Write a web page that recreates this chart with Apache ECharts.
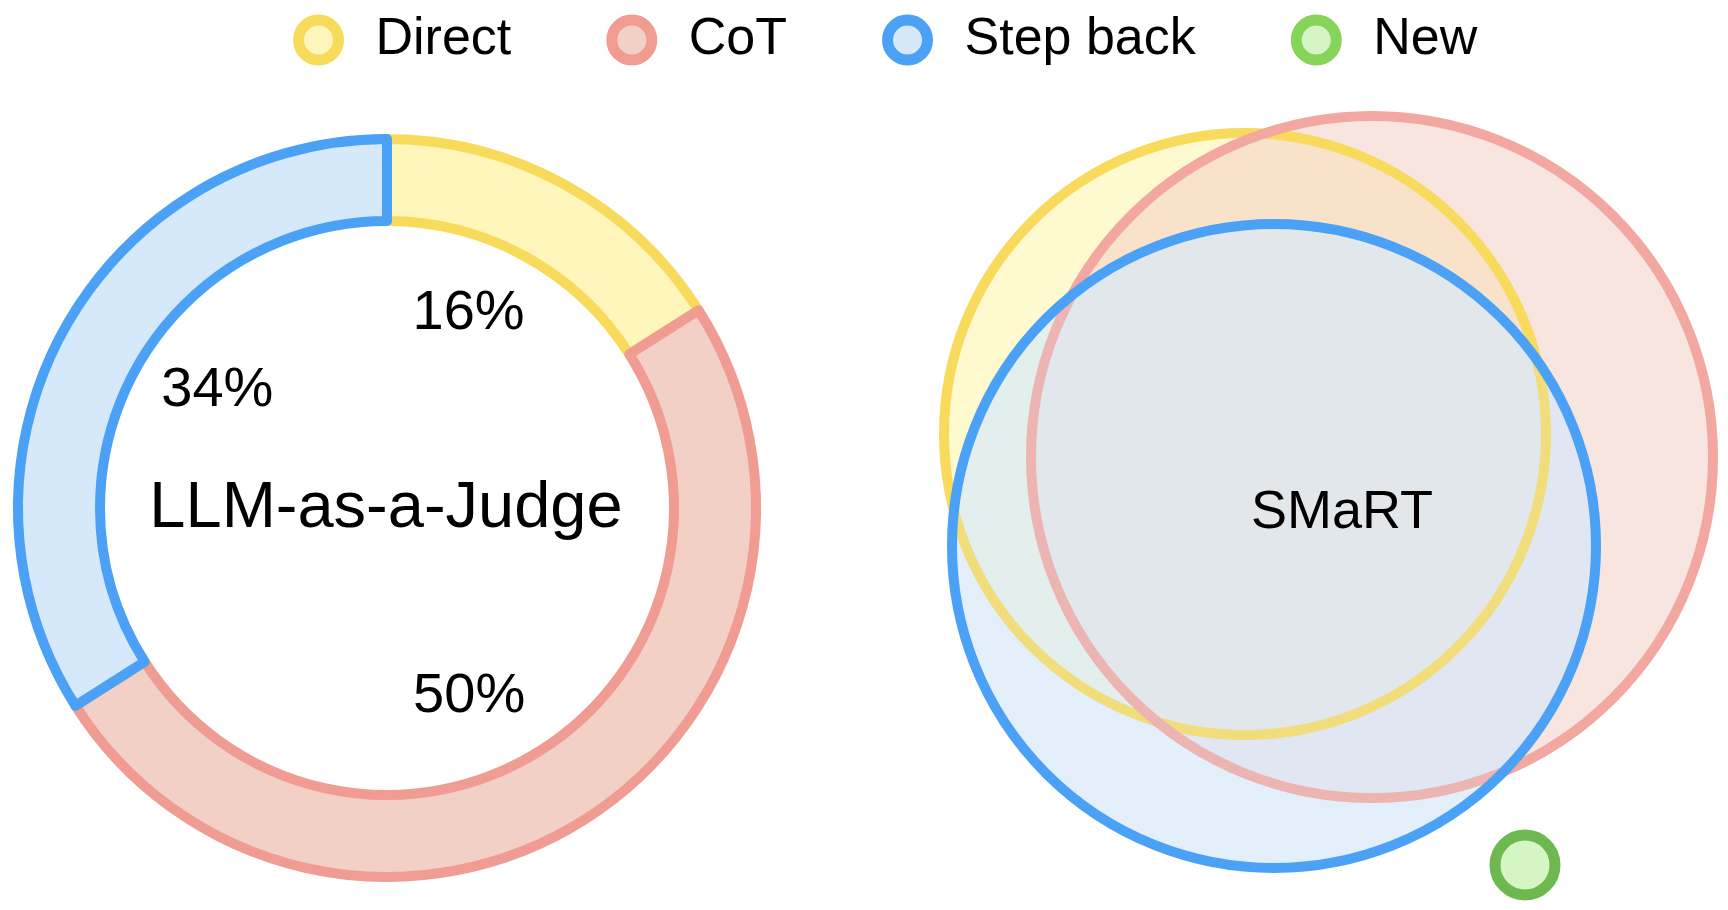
<!DOCTYPE html>
<html>
<head>
<meta charset="utf-8">
<title>LLM-as-a-Judge vs SMaRT</title>
<script src="https://cdn.jsdelivr.net/npm/echarts@6/dist/echarts.min.js"></script>
<style>
  html, body { margin: 0; padding: 0; background: #fff; }
  #main { width: 1728px; height: 910px; }
</style>
</head>
<body>
<div id="main"></div>
<script>
// share of answers per method (left donut)
var pieNames = ['Direct', 'CoT', 'Step back'];
var pieValues = [16, 50, 34];

// SMaRT sets (right diagram): centre x, centre y, radius in diagram units
var vennNames = ['Direct', 'CoT', 'Step back', 'New'];
var vennX = [34.5, 47.2, 37.4, 62.5];
var vennY = [46.6, 44.3, 35.4, 3.5];
var vennR = [30.1, 34.1, 32.2, 3.0];

var legendNames = ['Direct', 'CoT', 'Step back', 'New'];

var fillColor = { 'Direct': '#FEF6BA', 'CoT': '#F2D0C5', 'Step back': '#D6E9FB', 'New': '#D5F5C5' };
var lineColor = { 'Direct': '#F9DB5C', 'CoT': '#F09C92', 'Step back': '#4BA1F5', 'New': '#86D45A' };
var vennFill = { 'Direct': 'rgba(254,246,186,0.7)', 'CoT': 'rgba(242,208,197,0.55)', 'Step back': 'rgba(214,233,251,0.59)', 'New': '#D5F5C5' };
var vennTint = { 'Step back': 'rgba(214,233,251,0.2)' };
var vennLine = { 'Direct': '#F8DA5C', 'CoT': '#F2A8A1', 'Step back': '#4BA1F5', 'New': '#6DB94F' };

// nudges for the % labels inside the hole
var labelDx = [-21, -32, 17];
var labelDy = [-8, 9, -15];

var FONT = '"Liberation Sans", Arial, Helvetica, sans-serif';

var myChart = echarts.init(document.getElementById('main'));

var pieData = pieNames.map(function (n, i) {
    return {
        name: n,
        value: pieValues[i],
        itemStyle: { color: fillColor[n], borderColor: lineColor[n], borderWidth: 10 }
    };
});

var series = [
    {
        name: 'LLM-as-a-Judge',
        type: 'pie',
        center: [387, 508],
        radius: [287, 369],
        startAngle: 90,
        clockwise: true,
        silent: true,
        label: { show: false },
        labelLine: { show: false },
        data: pieData
    },
    {
        name: 'pct',
        type: 'pie',
        center: [387, 508],
        radius: [0, 420],
        startAngle: 90,
        clockwise: true,
        silent: true,
        avoidLabelOverlap: false,
        itemStyle: { color: 'rgba(0,0,0,0)', borderWidth: 0 },
        label: {
            show: true,
            position: 'inside',
            formatter: '{d}%',
            fontSize: 56,
            color: '#000',
            fontFamily: FONT
        },
        labelLine: { show: false },
        labelLayout: function (params) {
            return { dx: labelDx[params.dataIndex], dy: labelDy[params.dataIndex] };
        },
        data: pieNames.map(function (n, i) { return { name: n, value: pieValues[i] }; })
    }
];

// fills go underneath, outlines on top (z2), blue gets a light veil over the outlines
vennNames.forEach(function (n, i) {
    series.push({
        name: n,
        type: 'custom',
        coordinateSystem: 'cartesian2d',
        silent: true,
        data: [[vennX[i], vennY[i], vennR[i]]],
        renderItem: function (params, api) {
            var c = api.coord([api.value(0), api.value(1)]);
            var r = api.size([api.value(2), 0])[0];
            var shape = { cx: c[0], cy: c[1], r: r };
            var kids = [
                { type: 'circle', z2: i, shape: shape, style: { fill: vennFill[n], stroke: null } }
            ];
            if (vennTint[n]) {
                kids.push({ type: 'circle', z2: 9 + 2 * i, shape: shape, style: { fill: vennTint[n], stroke: null } });
            }
            kids.push({
                type: 'circle', z2: 10 + 2 * i, shape: shape,
                style: { fill: 'none', stroke: vennLine[n], lineWidth: n === 'New' ? 11 : 10 }
            });
            return { type: 'group', children: kids };
        }
    });
});

var option = {
    backgroundColor: '#fff',
    animation: false,
    textStyle: { fontFamily: FONT },
    legend: {
        data: legendNames.map(function (n) {
            return {
                name: n,
                icon: 'circle',
                itemStyle: { color: fillColor[n], borderColor: lineColor[n], borderWidth: 11 }
            };
        }),
        selectedMode: false,
        left: 288,
        top: 9,
        itemWidth: 40,
        itemHeight: 40,
        itemGap: 95,
        textStyle: { fontSize: 52, color: '#000', fontFamily: FONT, padding: [0, 0, 0, 32] }
    },
    grid: { left: 900, top: 100, width: 800, height: 800 },
    xAxis: { type: 'value', min: 0, max: 80, show: false },
    yAxis: { type: 'value', min: 0, max: 80, show: false },
    graphic: [
        {
            type: 'text',
            x: 386,
            y: 509,
            silent: true,
            style: { text: 'LLM-as-a-Judge', fontSize: 65, fontFamily: FONT, fill: '#000', textAlign: 'center', textVerticalAlign: 'middle' }
        },
        {
            type: 'text',
            x: 1342,
            y: 513,
            z: 100,
            silent: true,
            style: { text: 'SMaRT', fontSize: 54, fontFamily: FONT, fill: '#000', textAlign: 'center', textVerticalAlign: 'middle' }
        }
    ],
    series: series
};

myChart.setOption(option);
</script>
</body>
</html>
